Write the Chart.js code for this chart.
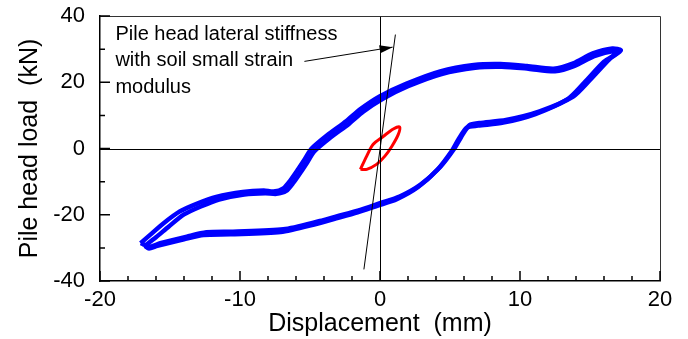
<!DOCTYPE html>
<html>
<head>
<meta charset="utf-8">
<script src="https://cdn.jsdelivr.net/npm/chart.js@4/dist/chart.umd.min.js"></script>
<style>
  body { margin: 0; background: #fff; }
</style>
</head>
<body>
<canvas id="myChart" width="688" height="339"></canvas>
<script>
// blue loop, outer cycle: up branch from the left tip, then the down branch back
const blueAX = [-17.1, -16.4, -15.5, -14.3, -13.1, -11.7, -9.8, -8.3, -7.6, -6.9, -6.4, -5.9, -5.4, -4.9, -3.8, -2.4, -1.4, 0, 1.9, 4.3, 6.7, 8.6, 10.5, 12.4, 13.8, 15.2, 16.6, 17.2,
  16.4, 15.0, 13.8, 11.4, 9.0, 7.1, 6.4, 5.8, 5.3, 4.3, 2.9, 1.4, 0, -1.4, -3.1, -4.3, -6.9, -10.5, -12.4, -13.8, -15.7, -16.4, -17.1];
const blueAY = [-28.6, -26.0, -22.7, -19.0, -16.7, -14.6, -13.1, -12.7, -13.0, -12.0, -9.6, -6.6, -3.4, -0.1, 3.9, 8.3, 11.9, 15.8, 19.6, 23.3, 25.2, 25.5, 24.9, 24.1, 25.7, 28.7, 30.2, 29.6,
  27.0, 20.7, 15.7, 11.2, 8.6, 7.7, 7.1, 3.5, -0.1, -5.6, -10.9, -14.5, -16.5, -18.5, -20.5, -21.9, -24.4, -25.1, -25.3, -26.6, -28.6, -29.6, -28.6];
// blue loop, inner cycle
const blueBX = [-16.8, -16.0, -15.1, -14.0, -12.8, -11.5, -9.7, -8.2, -7.4, -6.7, -6.2, -5.7, -5.2, -4.7, -3.6, -2.2, -1.2, 0.2, 2.0, 4.4, 6.8, 8.7, 10.6, 12.5, 13.9, 15.3, 16.7, 17.0,
  16.0, 14.6, 13.4, 11.1, 8.8, 7.0, 6.2, 5.6, 5.1, 4.1, 2.7, 1.2, -0.2, -1.6, -3.3, -4.5, -7.1, -10.7, -12.6, -14.0, -15.9, -16.5, -16.8];
const blueBY = [-29.4, -26.8, -23.6, -19.9, -17.5, -15.4, -13.9, -13.5, -13.7, -12.8, -10.4, -7.4, -4.2, -0.9, 3.1, 7.5, 11.1, 15.0, 18.8, 22.5, 24.4, 24.7, 24.1, 23.3, 24.9, 27.9, 29.4, 29.0,
  26.2, 19.9, 14.9, 10.4, 7.8, 6.9, 6.3, 2.7, -0.9, -6.4, -11.7, -15.3, -17.3, -19.3, -21.3, -22.7, -25.2, -25.9, -26.1, -27.4, -29.4, -30.2, -29.4];
// small red loop
const redX = [-1.4, -0.95, -0.5, 0.25, 0.95, 1.4, 1.3, 0.85, 0.35, -0.25, -0.95, -1.4];
const redY = [-6.3, -2.3, 1.2, 3.7, 5.9, 6.5, 4.2, 0.7, -2.3, -4.8, -6.3, -6.3];
// stiffness line and the arrow pointing at it
const stiffX = [-1.15, 1.1];
const stiffY = [-36.5, 34.4];
const arrowX = [-5.4, 0.9];
const arrowY = [26.3, 30.6];

const noteLines = ['Pile head lateral stiffness', 'with soil small strain', 'modulus'];
const noteX = -18.9;
const noteY = 32.9;

const xMajor = [-20, -10, 0, 10, 20];
const xMinor = [-18, -16, -14, -12, -8, -6, -4, -2, 2, 4, 6, 8, 12, 14, 16, 18];
const yMajor = [-40, -20, 0, 20, 40];
const yMinor = [-30, -10, 10, 30];

const FONT = '"Liberation Sans", Arial, sans-serif';

function pts(xs, ys) {
  return xs.map((x, i) => ({ x: x, y: ys[i] }));
}

const frame = {
  id: 'frame',
  afterDatasetsDraw(chart) {
    const c = chart.ctx;
    const a = chart.chartArea;
    const sx = chart.scales.x;
    const sy = chart.scales.y;
    c.save();
    // zero lines
    c.strokeStyle = '#000';
    c.lineWidth = 1;
    c.beginPath();
    const x0 = Math.round(sx.getPixelForValue(0)) + 0.5;
    const y0 = Math.round(sy.getPixelForValue(0)) + 0.5;
    c.moveTo(x0, a.top); c.lineTo(x0, a.bottom);
    c.moveTo(a.left, y0); c.lineTo(a.right, y0);
    c.stroke();
    // top and right edges
    c.strokeStyle = '#333';
    c.beginPath();
    c.moveTo(a.left, a.top + 0.5); c.lineTo(a.right + 0.5, a.top + 0.5); c.lineTo(a.right + 0.5, a.bottom);
    c.stroke();
    // inward ticks
    c.strokeStyle = '#000';
    c.lineWidth = 1.5;
    c.beginPath();
    xMajor.forEach(v => { const p = sx.getPixelForValue(v); c.moveTo(p, a.bottom); c.lineTo(p, a.bottom - 10); });
    xMinor.forEach(v => { const p = sx.getPixelForValue(v); c.moveTo(p, a.bottom); c.lineTo(p, a.bottom - 5); });
    yMajor.forEach(v => { const p = sy.getPixelForValue(v); c.moveTo(a.left, p); c.lineTo(a.left + 10, p); });
    yMinor.forEach(v => { const p = sy.getPixelForValue(v); c.moveTo(a.left, p); c.lineTo(a.left + 5, p); });
    c.stroke();
    // arrow head
    const ax = sx.getPixelForValue(arrowX[0]), ay = sy.getPixelForValue(arrowY[0]);
    const bx = sx.getPixelForValue(arrowX[1]), by = sy.getPixelForValue(arrowY[1]);
    const ang = Math.atan2(by - ay, bx - ax);
    c.fillStyle = '#000';
    c.beginPath();
    c.moveTo(bx, by);
    c.lineTo(bx - 13 * Math.cos(ang) + 4 * Math.sin(ang), by - 13 * Math.sin(ang) - 4 * Math.cos(ang));
    c.lineTo(bx - 13 * Math.cos(ang) - 4 * Math.sin(ang), by - 13 * Math.sin(ang) + 4 * Math.cos(ang));
    c.closePath();
    c.fill();
    // note text
    c.font = '20px ' + FONT;
    c.textAlign = 'left';
    c.textBaseline = 'alphabetic';
    const tx = sx.getPixelForValue(noteX), ty = sy.getPixelForValue(noteY);
    noteLines.forEach((t, i) => c.fillText(t, tx, ty + i * 26.7));
    c.restore();
  }
};

const config = {
  type: 'scatter',
  data: {
    datasets: [
      { data: pts(stiffX, stiffY), showLine: true, borderColor: '#000', borderWidth: 1, pointRadius: 0 },
      { data: pts(arrowX, arrowY), showLine: true, borderColor: '#000', borderWidth: 1, pointRadius: 0 },
      { data: pts(redX, redY), showLine: true, borderColor: '#ff0000', borderWidth: 3, pointRadius: 0, tension: 0.3 },
      { data: pts(blueAX, blueAY), showLine: true, borderColor: '#0000ff', borderWidth: 4.5, pointRadius: 0, tension: 0.25 },
      { data: pts(blueBX, blueBY), showLine: true, borderColor: '#0000ff', borderWidth: 4.5, pointRadius: 0, tension: 0.25 }
    ]
  },
  options: {
    responsive: false,
    animation: false,
    layout: { padding: { left: 0, top: 16, right: 28, bottom: 0 } },
    plugins: { legend: { display: false }, tooltip: { enabled: false } },
    scales: {
      x: {
        type: 'linear', min: -20, max: 20,
        afterFit: s => { s.height = 58; s.paddingLeft = 0; s.paddingRight = 0; },
        ticks: { stepSize: 10, color: '#000', padding: 6, maxRotation: 0, font: { family: FONT, size: 22 } },
        grid: { display: false, drawTicks: false },
        border: { display: true, color: '#000', width: 1.5 },
        title: { display: true, text: 'Displacement  (mm)', color: '#000', font: { family: FONT, size: 25 }, padding: { top: 0, bottom: 0 } }
      },
      y: {
        type: 'linear', min: -40, max: 40,
        afterFit: s => { s.width = 100; s.paddingTop = 0; s.paddingBottom = 0; },
        ticks: { stepSize: 20, color: '#000', padding: 15, font: { family: FONT, size: 22 } },
        grid: { display: false, drawTicks: false },
        border: { display: true, color: '#000', width: 1.5 },
        title: { display: true, text: 'Pile head load  (kN)', color: '#000', font: { family: FONT, size: 25 }, padding: { top: 15, bottom: 0 } }
      }
    }
  },
  plugins: [frame]
};

let ctx = document.getElementById('myChart').getContext('2d');
let myChart = new Chart(ctx, config);
</script>
</body>
</html>
